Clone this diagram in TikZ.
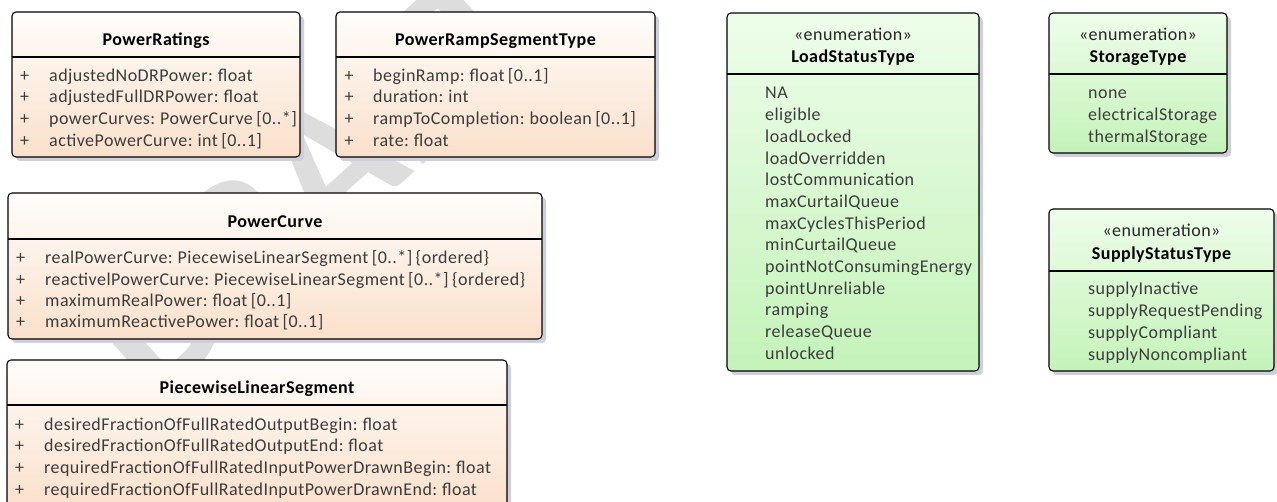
\documentclass[tikz,border=0pt]{standalone}
\usepackage{fontspec}
\setmainfont{Carlito}[LetterSpace=2.5]
\newfontfamily\wmfont{Carlito}
\usetikzlibrary{shadows}

\definecolor{classtop}{HTML}{FFFDFB}
\definecolor{classbot}{HTML}{FAE0CB}
\definecolor{enumtop}{HTML}{EEFDEA}
\definecolor{enumbot}{HTML}{C4F3B9}
\definecolor{shadowc}{HTML}{CDD0DA}
\definecolor{attrc}{HTML}{3C3C3C}
\definecolor{wmark}{HTML}{DDDDDD}

\newcommand\umltext{\fontsize{18}{21}\selectfont\spaceskip=0.19em plus 0.05em\relax}

\tikzset{
  boxbase/.style={draw=black, line width=1.1pt, rounded corners=4pt,
    anchor=north west, inner sep=0pt, outer sep=0pt,
    drop shadow={shadow xshift=4pt, shadow yshift=-4pt, fill=shadowc, opacity=1}},
  classbox/.style={boxbase, top color=classtop, bottom color=classbot},
  enumbox/.style={boxbase, top color=enumtop, bottom color=enumbot},
  sepline/.style={draw=black, line width=1.1pt},
  title/.style={anchor=base, inner sep=0pt, font=\bfseries\umltext},
  stereo/.style={anchor=base, inner sep=0pt, text=black!85, font=\umltext},
  attr/.style={anchor=base west, inner sep=0pt, text=attrc, font=\umltext},
  vis/.style={anchor=base, inner sep=0pt, text=attrc, font=\umltext},
}

\begin{document}
\begin{tikzpicture}[x=1pt, y=-1pt]
\useasboundingbox (0,0) rectangle (1277,502);
\clip (0,0) rectangle (1277,502);
\fill[white] (0,0) rectangle (1277,502);

% watermark behind everything
\node[text=wmark, rotate=42, inner sep=0pt, font=\wmfont\bfseries\fontsize{195}{195}\selectfont]
  (wm) at (312,180) {DRAFT};

% ---------- PowerRatings ----------
\node[classbox, minimum width=288pt, minimum height=145pt] (pr) at (12,12) {};
\draw[sepline] (12,57) -- (300,57);
\node[title] (prT) at (156,46) {PowerRatings};
\foreach \y/\t [count=\i] in {82/{adjustedNoDRPower: float},
    103/{adjustedFullDRPower: float},
    125/{powerCurves: PowerCurve [0..*]},
    147/{activePowerCurve: int [0..1]}} {
  \node[vis] (prV\i) at (24.5,\y) {+};
  \node[attr] (prA\i) at (49,\y) {\t};
}

% ---------- PowerRampSegmentType ----------
\node[classbox, minimum width=319pt, minimum height=145pt] (prs) at (336,12) {};
\draw[sepline] (336,57) -- (655,57);
\node[title] (prsT) at (495.5,46) {PowerRampSegmentType};
\foreach \y/\t [count=\i] in {82/{beginRamp: float [0..1]},
    103/{duration: int},
    125/{rampToCompletion: boolean [0..1]},
    147/{rate: float}} {
  \node[vis] (prsV\i) at (349,\y) {+};
  \node[attr] (prsA\i) at (373,\y) {\t};
}

% ---------- PowerCurve ----------
\node[classbox, minimum width=534pt, minimum height=146pt] (pc) at (8,193) {};
\draw[sepline] (8,239) -- (542,239);
\node[title] (pcT) at (275,228) {PowerCurve};
\foreach \y/\t [count=\i] in {264/{realPowerCurve: PiecewiseLinearSegment [0..*] \{ordered\}},
    286/{reactivelPowerCurve: PiecewiseLinearSegment [0..*] \{ordered\}},
    307/{maximumRealPower: float [0..1]},
    328/{maximumReactivePower: float [0..1]}} {
  \node[vis] (pcV\i) at (20.5,\y) {+};
  \node[attr] (pcA\i) at (45,\y) {\t};
}

% ---------- PiecewiseLinearSegment ----------
\node[classbox, minimum width=500pt, minimum height=146pt] (pls) at (7,360) {};
\draw[sepline] (7,405) -- (507,405);
\node[title] (plsT) at (257,394) {PiecewiseLinearSegment};
\foreach \y/\t [count=\i] in {430/{desiredFractionOfFullRatedOutputBegin: float},
    451/{desiredFractionOfFullRatedOutputEnd: float},
    473/{requiredFractionOfFullRatedInputPowerDrawnBegin: float},
    495/{requiredFractionOfFullRatedInputPowerDrawnEnd: float}} {
  \node[vis] (plsV\i) at (19.5,\y) {+};
  \node[attr] (plsA\i) at (44,\y) {\t};
}

% ---------- LoadStatusType ----------
\node[enumbox, minimum width=252pt, minimum height=358pt] (lst) at (727,13) {};
\draw[sepline] (727,74) -- (979,74);
\node[stereo] (lstS) at (853,41) {«enumeration»};
\node[title] (lstT) at (853,63) {LoadStatusType};
\foreach \t [count=\i from 0] in {NA, eligible, loadLocked, loadOverridden,
    lostCommunication, maxCurtailQueue, maxCyclesThisPeriod, minCurtailQueue,
    pointNotConsumingEnergy, pointUnreliable, ramping, releaseQueue, unlocked} {
  \node[attr] (lstL\i) at (765,99+21.7*\i) {\t};
}

% ---------- StorageType ----------
\node[enumbox, minimum width=178pt, minimum height=140pt] (st) at (1049,13) {};
\draw[sepline] (1049,74) -- (1227,74);
\node[stereo] (stS) at (1138,41) {«enumeration»};
\node[title] (stT) at (1138,63) {StorageType};
\foreach \t [count=\i from 0] in {none, electricalStorage, thermalStorage} {
  \node[attr] (stL\i) at (1088,99+21.7*\i) {\t};
}

% ---------- SupplyStatusType ----------
\node[enumbox, minimum width=225pt, minimum height=162pt] (sst) at (1049,209) {};
\draw[sepline] (1049,271) -- (1274,271);
\node[stereo] (sstS) at (1161.5,237) {«enumeration»};
\node[title] (sstT) at (1161.5,260) {SupplyStatusType};
\foreach \t [count=\i from 0] in {supplyInactive, supplyRequestPending,
    supplyCompliant, supplyNoncompliant} {
  \node[attr] (sstL\i) at (1088,295+21.7*\i) {\t};
}
\end{tikzpicture}
\end{document}
